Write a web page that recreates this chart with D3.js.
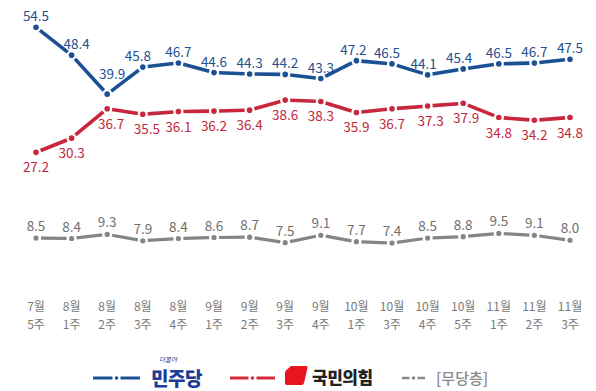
<!DOCTYPE html>
<html><head><meta charset="utf-8">
<script src="https://cdn.jsdelivr.net/npm/d3@7"></script>
<style>
html,body{margin:0;padding:0;background:#fff;}
svg{display:block;font-family:"Noto Sans CJK KR","Noto Sans",sans-serif;}
</style></head>
<body><svg id="c" width="596" height="391"></svg>
<script>
const months = ["7월","8월","8월","8월","8월","9월","9월","9월","9월","10월","10월","10월","10월","11월","11월","11월"];
const weeks  = ["5주","1주","2주","3주","4주","1주","2주","3주","4주","1주","3주","4주","5주","1주","2주","3주"];
const demValues = [54.5,48.4,39.9,45.8,46.7,44.6,44.3,44.2,43.3,47.2,46.5,44.1,45.4,46.5,46.7,47.5];
const pppValues = [27.2,30.3,36.7,35.5,36.1,36.2,36.4,38.6,38.3,35.9,36.7,37.3,37.9,34.8,34.2,34.8];
const indValues = [8.5,8.4,9.3,7.9,8.4,8.6,8.7,7.5,9.1,7.7,7.4,8.5,8.8,9.5,9.1,8.0];

const svg = d3.select("#c");
const idx = d3.range(months.length);
const x = d3.scalePoint().domain(idx).range([36, 570]);
const y = d3.scaleLinear().domain([0, 60]).range([277, 2]);

// small label nudges [dx, dy] to keep labels clear of the lines (layout only)
const demNudge = {1: [5,0], 2: [5,-9], 3: [-5,0], 9: [-3,0], 10: [-5,0], 11: [-4,0], 12: [-4,0]};
const pppNudge = {2: [4,0], 3: [4,0], 11: [3,0], 12: [3,0]};

const series = [
  {vals: demValues, line: "#1b5094", text: "#1f4f8e", lw: 3.6, r: 2.8, dy: -6, nudge: demNudge},
  {vals: pppValues, line: "#c8263a", text: "#c0283c", lw: 3.6, r: 2.8, dy: 20, nudge: pppNudge},
  {vals: indValues, line: "#858585", text: "#707070", lw: 3.2, r: 2.6, dy: -7, nudge: {}}
];

const gap = 5;
series.forEach(s => {
  const pts = s.vals.map((v,i) => [x(i), y(v)]);
  const g = svg.append("g");
  for (let i = 0; i < pts.length - 1; i++) {
    const [x1,y1] = pts[i], [x2,y2] = pts[i+1];
    const dx = x2-x1, dy = y2-y1, L = Math.hypot(dx,dy);
    const ux = dx/L, uy = dy/L;
    g.append("line")
      .attr("x1", x1+ux*gap).attr("y1", y1+uy*gap)
      .attr("x2", x2-ux*gap).attr("y2", y2-uy*gap)
      .attr("stroke", s.line).attr("stroke-width", s.lw).attr("stroke-linecap","butt");
  }
  g.selectAll("circle").data(pts).join("circle")
    .attr("cx", d=>d[0]).attr("cy", d=>d[1]).attr("r", s.r).attr("fill", s.line);
  g.selectAll("text").data(s.vals).join("text")
    .attr("x", (v,i)=>x(i) + (s.nudge[i] ? s.nudge[i][0] : 0))
    .attr("y", (v,i)=>y(v) + s.dy + (s.nudge[i] ? s.nudge[i][1] : 0))
    .attr("text-anchor","middle").attr("font-size",13.5).attr("fill", s.text)
    .text(v=>v.toFixed(1));
});

// x axis labels
const xa = svg.append("g");
xa.selectAll("text.m").data(months).join("text").attr("class","m")
  .attr("x",(d,i)=>x(i)).attr("y",311).attr("text-anchor","middle")
  .attr("font-size",12).attr("fill","#7a7a7a").text(d=>d);
xa.selectAll("text.w").data(weeks).join("text").attr("class","w")
  .attr("x",(d,i)=>x(i)).attr("y",329).attr("text-anchor","middle")
  .attr("font-size",12).attr("fill","#7a7a7a").text(d=>d);

// legend
const lg = svg.append("g");
function legLine(x0, x1, yy, col, w) {
  const mid = (x0+x1)/2;
  lg.append("line").attr("x1",x0).attr("x2",mid-4).attr("y1",yy).attr("y2",yy).attr("stroke",col).attr("stroke-width",w);
  lg.append("line").attr("x1",mid+4).attr("x2",x1).attr("y1",yy).attr("y2",yy).attr("stroke",col).attr("stroke-width",w);
  lg.append("circle").attr("cx",mid).attr("cy",yy).attr("r",1.8).attr("fill",col);
}
legLine(93, 140, 378, "#1b5094", 3);
lg.append("text").attr("x",151).attr("y",386).attr("font-size",19).attr("font-weight",900)
  .attr("fill","#1a3d96").attr("letter-spacing",-0.5).text("민주당");
lg.append("text").attr("x",159).attr("y",362).attr("font-size",6.5).attr("font-style","italic")
  .attr("fill","#1a3d96").text("더불어");
legLine(230, 275, 378, "#d42a3a", 3);
lg.append("path")
  .attr("d","M291,366 L306,366 Q308,366 307.5,368 L304,383 Q303.5,385 301.5,385 L287,385 Q285,385 285,383 L285,373 Q285,371 286.5,370 Z")
  .attr("fill","#e8141e");
lg.append("text").attr("x",312).attr("y",384).attr("font-size",17).attr("font-weight",900)
  .attr("fill","#222").attr("letter-spacing",-0.5).text("국민의힘");
legLine(402, 425, 378, "#8a8a8a", 2.5);
lg.append("text").attr("x",436).attr("y",384).attr("font-size",15).attr("font-weight",500)
  .attr("fill","#8a8a8a").text("[무당층]");
</script></body></html>
